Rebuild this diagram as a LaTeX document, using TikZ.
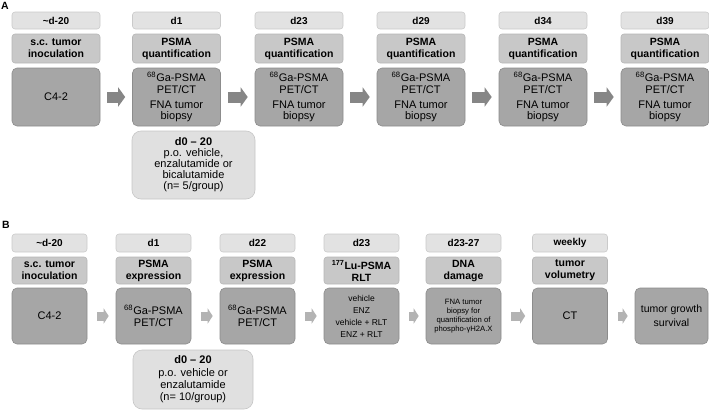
\documentclass[tikz,border=0pt]{standalone}
\usepackage{fontspec}
\setmainfont{Liberation Sans}
\usetikzlibrary{arrows.meta}
\definecolor{dayc}{HTML}{E2E2E2}
\definecolor{dayd}{HTML}{CACACA}
\definecolor{titc}{HTML}{C8C8C8}
\definecolor{titd}{HTML}{B6B6B6}
\definecolor{mainc}{HTML}{A6A6A6}
\definecolor{maind}{HTML}{8C8C8C}
\definecolor{notc}{HTML}{E0E0E0}
\definecolor{notd}{HTML}{C6C6C6}
\definecolor{arrAc}{HTML}{868686}
\definecolor{arrBc}{HTML}{B3B3B3}
\begin{document}
\begin{tikzpicture}[x=1pt,y=-1pt,
  box/.style={rounded corners=3pt, align=center, inner sep=1pt, line width=0.6pt},
  dayb/.style={box, fill=dayc, draw=dayd, font=\bfseries\fontsize{10}{11}\selectfont},
  titleb/.style={box, fill=titc, draw=titd, font=\bfseries\fontsize{10.5}{12}\selectfont},
  mainb/.style={box, rounded corners=5pt, fill=mainc, draw=maind, font=\fontsize{11}{11.5}\selectfont},
  noteb/.style={box, rounded corners=9pt, fill=notc, draw=notd, font=\fontsize{11}{11}\selectfont},
  arrowA/.style={draw=arrAc, line width=11pt, -{Triangle[length=7pt,width=19pt]}, shorten <=7pt, shorten >=7pt},
  arrowB/.style={draw=arrBc, line width=9pt, -{Triangle[length=5pt,width=15pt]}, shorten <=10pt, shorten >=7pt},
  lab/.style={font=\bfseries\fontsize{10.5}{12}\selectfont, inner sep=0pt}
]
\useasboundingbox (0,0) rectangle (709,410);

% ---------- Panel A ----------
\node[lab] (lA) at (5,6) {A};
\node[dayb, minimum width=88pt, minimum height=17pt] (ad1) at (56,20.5) {\textasciitilde d-20};
\node[titleb, minimum width=88pt, minimum height=29pt] (at1) at (56,48.5) {s.c. tumor\\inoculation};
\node[mainb, minimum width=88pt, minimum height=58pt] (am1) at (56,97) {C4-2};
\foreach \i/\x/\d in {2/176.5/d1,3/299/d23,4/421/d29,5/543/d34,6/665/d39} {
  \node[dayb, minimum width=88pt, minimum height=17pt] (ad\i) at (\x,20.5) {\d};
  \node[titleb, minimum width=88pt, minimum height=29pt] (at\i) at (\x,48.5) {PSMA\\quantification};
  \node[mainb, minimum width=88pt, minimum height=58pt] (am\i) at (\x,97)
    {\textsuperscript{68}Ga-PSMA\\PET/CT\\[3.5pt]FNA tumor\\biopsy};
}
\foreach \a/\b in {1/2,2/3,3/4,4/5,5/6} {
  \draw[arrowA] (am\a.east) -- (am\b.west);
}
\node[noteb, minimum width=123pt, minimum height=68pt] (an) at (193.5,165)
  {\textbf{d0 -- 20}\\p.o. vehicle,\\enzalutamide or\\bicalutamide\\(n= 5/group)};

% ---------- Panel B ----------
\node[lab] (lB) at (6,225) {B};
\foreach \i/\x/\d/\t in {1/49.5/\textasciitilde d-20/{s.c. tumor\\inoculation},
                         2/153.5/d1/{PSMA\\expression},
                         3/257.5/d22/{PSMA\\expression},
                         4/361.5/d23/{\textsuperscript{177}Lu-PSMA\\RLT},
                         5/463.5/d23-27/{DNA\\damage},
                         6/570/weekly/{tumor\\volumetry}} {
  \node[dayb, minimum width=75pt, minimum height=18pt] (bd\i) at (\x,243) {\d};
  \node[titleb, minimum width=75pt, minimum height=27pt] (bt\i) at (\x,270.5) {\t};
}
\node[mainb, minimum width=75pt, minimum height=56pt] (bm1) at (49.5,316) {C4-2};
\node[mainb, minimum width=75pt, minimum height=56pt] (bm2) at (153.5,316) {\textsuperscript{68}Ga-PSMA\\PET/CT};
\node[mainb, minimum width=75pt, minimum height=56pt] (bm3) at (257.5,316) {\textsuperscript{68}Ga-PSMA\\PET/CT};
\node[mainb, minimum width=75pt, minimum height=56pt, font=\fontsize{8.5}{12}\selectfont] (bm4) at (361.5,316)
  {vehicle\\ENZ\\vehicle + RLT\\ENZ + RLT};
\node[mainb, minimum width=75pt, minimum height=56pt, font=\fontsize{7.7}{9}\selectfont] (bm5) at (463.5,316)
  {FNA tumor\\biopsy for\\quantification of\\phospho-γH2A.X};
\node[mainb, minimum width=75pt, minimum height=56pt] (bm6) at (570,316) {CT};
\node[mainb, minimum width=73pt, minimum height=56pt, font=\fontsize{10.5}{14}\selectfont] (bm7) at (671.5,316)
  {tumor growth\\survival};
\foreach \a/\b in {1/2,2/3,3/4,4/5,5/6,6/7} {
  \draw[arrowB] (bm\a.east) -- (bm\b.west);
}
\node[noteb, minimum width=120pt, minimum height=59pt, font=\fontsize{11}{12.3}\selectfont] (bn) at (193,379.5)
  {\textbf{d0 -- 20}\\p.o. vehicle or\\enzalutamide\\(n= 10/group)};
\end{tikzpicture}
\end{document}
